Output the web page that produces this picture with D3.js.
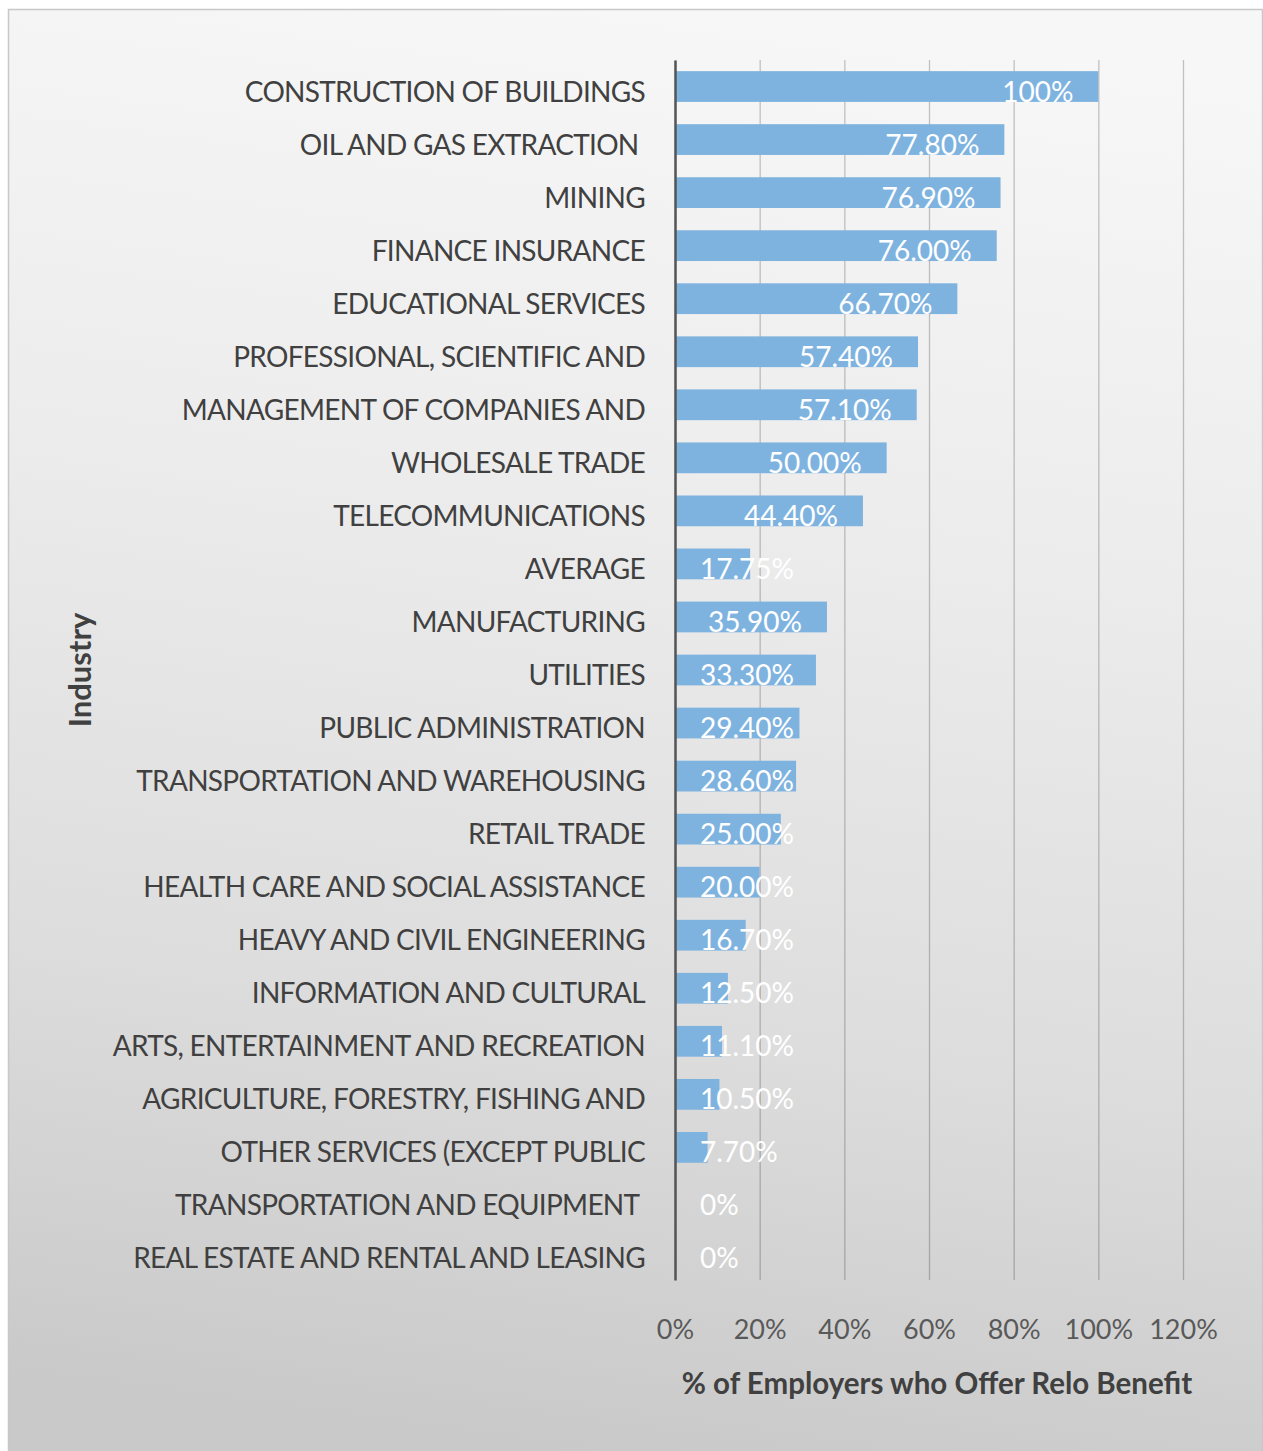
<!DOCTYPE html>
<html>
<head>
<meta charset="utf-8">
<script src="https://cdn.jsdelivr.net/npm/d3@7"></script>
<style>
  html, body { margin: 0; padding: 0; background: #ffffff; }
  svg { display: block; }
  text { font-family: Lato, "Open Sans", sans-serif; }
</style>
</head>
<body>
<svg id="chart" width="1263" height="1451"></svg>
<script>
// Industries, top to bottom
const industries = [
  "CONSTRUCTION OF BUILDINGS",
  "OIL AND GAS EXTRACTION ",
  "MINING",
  "FINANCE INSURANCE",
  "EDUCATIONAL SERVICES",
  "PROFESSIONAL, SCIENTIFIC AND",
  "MANAGEMENT OF COMPANIES AND",
  "WHOLESALE TRADE",
  "TELECOMMUNICATIONS",
  "AVERAGE",
  "MANUFACTURING",
  "UTILITIES",
  "PUBLIC ADMINISTRATION",
  "TRANSPORTATION AND WAREHOUSING",
  "RETAIL TRADE",
  "HEALTH CARE AND SOCIAL ASSISTANCE",
  "HEAVY AND CIVIL ENGINEERING",
  "INFORMATION AND CULTURAL",
  "ARTS, ENTERTAINMENT AND RECREATION",
  "AGRICULTURE, FORESTRY, FISHING AND",
  "OTHER SERVICES (EXCEPT PUBLIC",
  "TRANSPORTATION AND EQUIPMENT ",
  "REAL ESTATE AND RENTAL AND LEASING"
];

// Share of employers offering a relocation benefit (percent)
const offerPct = [
  100, 77.8, 76.9, 76.0, 66.7, 57.4, 57.1, 50.0, 44.4, 17.75,
  35.9, 33.3, 29.4, 28.6, 25.0, 20.0, 16.7, 12.5, 11.1, 10.5,
  7.7, 0, 0
];

// Value axis ticks (percent)
const xTicks = [0, 20, 40, 60, 80, 100, 120];

const xTitle = "% of Employers who Offer Relo Benefit";
const yTitle = "Industry";

const data = industries.map((name, i) => ({ name, value: offerPct[i] }));

const svg = d3.select("#chart");
const W = 1263, H = 1451;

// Chart area background with soft grey gradient
const defs = svg.append("defs");
const grad = defs.append("linearGradient")
  .attr("id", "bg")
  .attr("x1", 0.56).attr("y1", 0)
  .attr("x2", 0.44).attr("y2", 1);
grad.append("stop").attr("offset", 0).attr("stop-color", "#f7f7f7");
grad.append("stop").attr("offset", 0.35).attr("stop-color", "#ececec");
grad.append("stop").attr("offset", 0.7).attr("stop-color", "#dddddd");
grad.append("stop").attr("offset", 1).attr("stop-color", "#c9c9c9");

svg.append("rect")
  .attr("x", 8.5).attr("y", 9.5)
  .attr("width", W - 9).attr("height", H - 9)
  .attr("fill", "url(#bg)")
  .attr("stroke", "#c8c8c8")
  .attr("stroke-width", 1.5);

const plot = { left: 675, right: 1183, top: 60, bottom: 1280 };

const x = d3.scaleLinear()
  .domain([0, 120])
  .range([plot.left, plot.right]);

const y = d3.scaleBand()
  .domain(industries)
  .range([plot.top, plot.bottom])
  .paddingInner(0.42)
  .paddingOuter(0.21);

// Vertical gridlines + tick labels
const xAxis = d3.axisBottom(x)
  .tickValues(xTicks)
  .tickFormat(d => d + "%")
  .tickSizeInner(-(plot.bottom - plot.top))
  .tickSizeOuter(0)
  .tickPadding(40);

const gx = svg.append("g")
  .attr("transform", `translate(0,${plot.bottom})`)
  .call(xAxis);
gx.select(".domain").remove();
gx.selectAll(".tick line")
  .attr("stroke", "rgba(0,0,0,0.22)")
  .attr("stroke-width", 1.3);
gx.selectAll(".tick text")
  .attr("fill", "#595959")
  .attr("font-size", 27)
  .attr("font-family", "Lato, 'Open Sans', sans-serif");

// Bars
svg.append("g")
  .selectAll("rect")
  .data(data)
  .join("rect")
  .attr("x", x(0))
  .attr("y", d => y(d.name))
  .attr("width", d => x(d.value) - x(0))
  .attr("height", y.bandwidth())
  .attr("fill", "#7fb3df");

// Category axis
const yAxis = d3.axisLeft(y).tickSize(0).tickPadding(30);
const gy = svg.append("g")
  .attr("transform", `translate(${plot.left},0)`)
  .call(yAxis);
gy.select(".domain")
  .attr("stroke", "#555555")
  .attr("stroke-width", 2.5);
gy.selectAll(".tick text")
  .attr("fill", "#404040")
  .attr("font-size", 28)
  .attr("letter-spacing", -0.7)
  .attr("font-family", "Lato, 'Open Sans', sans-serif")
  .attr("dy", null)
  .attr("y", 15)
  .style("white-space", "pre");

// Value labels: inside the bar end, pushed right when the bar is too short
const fmt = v => (v === 100 || v === 0) ? v + "%" : v.toFixed(2) + "%";
const inset = 25;
const labels = svg.append("g")
  .selectAll("text")
  .data(data)
  .join("text")
  .attr("fill", "#ffffff")
  .attr("font-size", 28)
  .attr("y", d => y(d.name) + y.bandwidth() / 2 + 15)
  .text(d => fmt(d.value));
labels.each(function(d) {
  const w = this.getComputedTextLength();
  const endX = Math.max(x(d.value) - inset, x(0) + inset + w);
  d3.select(this).attr("x", endX).attr("text-anchor", "end");
});

// Axis titles
svg.append("text")
  .attr("x", 937)
  .attr("y", 1394)
  .attr("text-anchor", "middle")
  .attr("font-size", 29.5)
  .attr("font-weight", "bold")
  .attr("fill", "#404040")
  .text(xTitle);

svg.append("text")
  .attr("transform", `translate(91,${(plot.top + plot.bottom) / 2}) rotate(-90)`)
  .attr("text-anchor", "middle")
  .attr("font-size", 31)
  .attr("font-weight", "bold")
  .attr("fill", "#404040")
  .text(yTitle);
</script>
</body>
</html>
